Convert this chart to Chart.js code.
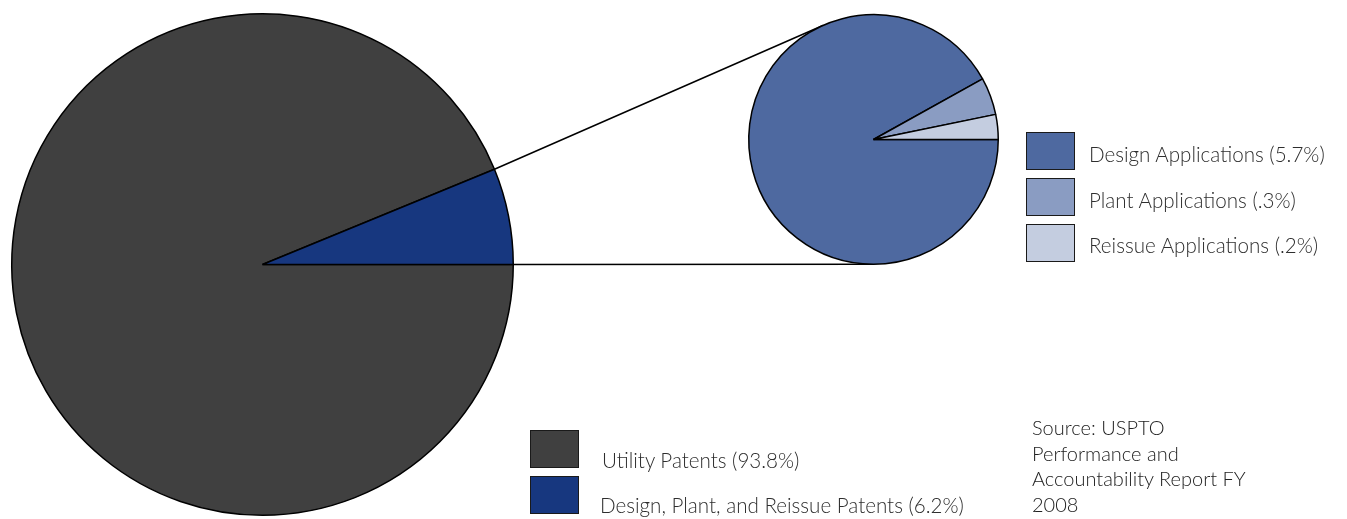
<!DOCTYPE html>
<html>
<head>
<meta charset="utf-8">
<script src="https://cdn.jsdelivr.net/npm/chart.js@4.4.1/dist/chart.umd.min.js"></script>
<style>
  body { margin: 0; background: #fff; }
  #wrap { position: relative; width: 1347px; height: 519px; overflow: hidden; font-family: Lato, "Noto Sans", sans-serif; font-weight: 300; color: #2e2e2e; }
  canvas { position: absolute; left: 0; top: 0; }
  .box { position: absolute; width: 47px; height: 36px; border: 1.5px solid #1a1a1a; }
  .lbl { position: absolute; font-size: 20.6px; line-height: 24px; white-space: nowrap; }
  #source { position: absolute; left: 1032px; top: 415px; font-size: 20px; line-height: 25.7px; color: #222; }
</style>
</head>
<body>
<div id="wrap">
  <canvas id="mainPie" width="1347" height="519"></canvas>
  <canvas id="subPie" width="1347" height="519"></canvas>
  <div id="source"></div>
</div>
<script>
// main split of patent applications (percent)
const mainLabels = ['Utility Patents', 'Design, Plant, and Reissue Patents'];
const mainValues = [93.8, 6.2];
const mainColors = ['#404040', '#17377f'];

// breakdown of the small slice (percent)
const subLabels = ['Design Applications', 'Plant Applications', 'Reissue Applications'];
const subValues = [5.7, 0.3, 0.2];
const subColors = ['#4e69a0', '#8a9cc2', '#c4cde0'];

const sourceLines = ['Source: USPTO', 'Performance and', 'Accountability Report FY', '2008'];

function pct(v) {
  // 0.3 -> ".3%"
  return '(' + String(v).replace(/^0\./, '.') + '%)';
}

function pieOptions(pad) {
  return {
    responsive: false,
    devicePixelRatio: 1,
    animation: false,
    rotation: 90,
    layout: { padding: pad },
    plugins: { legend: { display: false }, tooltip: { enabled: false } }
  };
}

let mainChart = new Chart(document.getElementById('mainPie'), {
  type: 'pie',
  data: {
    labels: mainLabels,
    datasets: [{
      data: mainValues,
      backgroundColor: mainColors,
      borderColor: '#000',
      borderWidth: 1.5
    }]
  },
  options: pieOptions({ left: 11, top: 13, right: 833, bottom: 3 })
});

// tangent point from p to circle (cx, cy, r); side -1 = upper, +1 = lower
function tangent(p, c, r, side) {
  let dx = c.x - p.x, dy = c.y - p.y;
  let d = Math.sqrt(dx * dx + dy * dy);
  let a = Math.atan2(dy, dx) + side * Math.asin(r / d);
  let len = Math.sqrt(d * d - r * r);
  return { x: p.x + len * Math.cos(a), y: p.y + len * Math.sin(a) };
}

const connectors = {
  id: 'connectors',
  beforeDatasetsDraw(chart) {
    let arc = mainChart.getDatasetMeta(0).data[1];
    let small = chart.getDatasetMeta(0).data[0];
    let c = { x: small.x, y: small.y };
    let r = small.outerRadius;
    let R = arc.outerRadius;
    let p1 = { x: arc.x + R * Math.cos(arc.startAngle), y: arc.y + R * Math.sin(arc.startAngle) };
    let p2 = { x: arc.x + R * Math.cos(arc.endAngle), y: arc.y + R * Math.sin(arc.endAngle) };
    let t1 = tangent(p1, c, r, -1);
    let t2 = tangent(p2, c, r, 1);
    let ctx = chart.ctx;
    ctx.save();
    ctx.strokeStyle = '#000';
    ctx.lineWidth = 1.5;
    ctx.beginPath();
    ctx.moveTo(p1.x, p1.y);
    ctx.lineTo(t1.x, t1.y);
    ctx.moveTo(p2.x, p2.y);
    ctx.lineTo(t2.x, t2.y);
    ctx.stroke();
    ctx.restore();
  }
};

let subChart = new Chart(document.getElementById('subPie'), {
  type: 'pie',
  data: {
    labels: subLabels,
    datasets: [{
      data: subValues,
      backgroundColor: subColors,
      borderColor: '#000',
      borderWidth: 1.5
    }]
  },
  options: pieOptions({ left: 748, top: 14, right: 348, bottom: 254 }),
  plugins: [connectors]
});

// legends
let wrap = document.getElementById('wrap');
function addItem(color, text, boxLeft, boxTop, textLeft, textMid) {
  let b = document.createElement('div');
  b.className = 'box';
  b.style.left = boxLeft + 'px';
  b.style.top = boxTop + 'px';
  b.style.background = color;
  wrap.appendChild(b);
  let t = document.createElement('div');
  t.className = 'lbl';
  t.style.left = textLeft + 'px';
  t.style.top = (textMid - 12) + 'px';
  t.textContent = text;
  wrap.appendChild(t);
}

let subTops = [132, 178, 224];
let subMids = [154, 200, 245];
subLabels.forEach(function(l, i) {
  addItem(subColors[i], l + ' ' + pct(subValues[i]), 1026, subTops[i], 1089, subMids[i]);
});

let mainTops = [430, 476];
let mainMids = [460, 505];
let mainTextLeft = [602, 600];
mainLabels.forEach(function(l, i) {
  addItem(mainColors[i], l + ' ' + pct(mainValues[i]), 530, mainTops[i], mainTextLeft[i], mainMids[i]);
});

document.getElementById('source').innerHTML = sourceLines.join('<br>');
</script>
</body>
</html>
